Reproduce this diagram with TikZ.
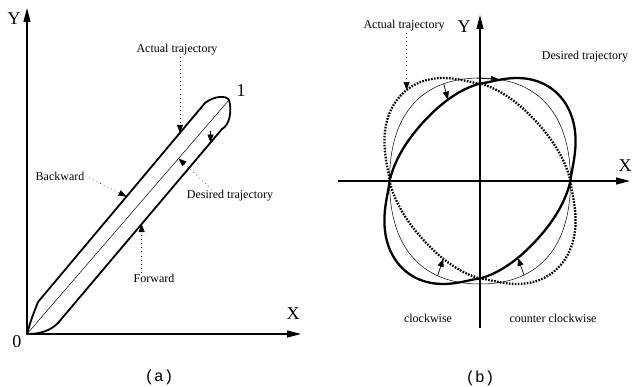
\documentclass[tikz,border=0pt]{standalone}
\usepackage{fontspec}
\setmainfont{Liberation Serif}
\newfontfamily\capfont{Liberation Mono}
\usetikzlibrary{arrows.meta}

\begin{document}
\begin{tikzpicture}[x=1pt, y=-1pt,
  axisline/.style={line width=1.3pt, -{Triangle[length=14pt,width=7pt]}},
  actual/.style={line width=1.8pt, line join=round},
  bold/.style={line width=2.3pt},
  dots/.style={line width=2.3pt, dash pattern=on 1.6pt off 1.4pt},
  desired/.style={line width=0.5pt},
  leader/.style={line width=0.5pt, dash pattern=on 0.6pt off 3.5pt, -{Triangle[length=8pt,width=6pt]}},
  errmark/.style={line width=0.7pt, -{Triangle[length=8pt,width=6pt]}},
  lbl/.style={font=\fontsize{12}{12}\selectfont, inner sep=1pt},
  big/.style={font=\fontsize{18}{18}\selectfont, inner sep=0pt},
  caption/.style={font=\capfont\fontsize{16}{16}\selectfont},
  declare function={
    po(\t)=max(sin(2*\t),0);
    ne(\t)=max(-sin(2*\t),0);
    rb(\t)=1+0.24*po(\t)*sqrt(po(\t)+0.0001)-0.13*ne(\t);
    rd(\t)=1+0.24*ne(\t)*sqrt(ne(\t)+0.0001)-0.13*po(\t);
    rt(\t)=1+0.05*sin(2*\t)*sin(2*\t);
  }]
\useasboundingbox (0,0) rectangle (632,387);

% (a) straight line
\coordinate (O) at (27,334);
\coordinate (ya) at (27,8);
\coordinate (xa) at (301,334);
\coordinate (T) at (229,100);
\coordinate (u1) at (38,302);
\coordinate (u2) at (205,103);
\coordinate (l1) at (58,323);
\coordinate (l2) at (222,129);
\draw[axisline] (O) -- (ya);
\draw[axisline] (O) -- (xa);
\draw[desired] (O) -- (T);
\draw[actual] (O) .. controls (31,320) .. (u1) -- (u2)
  .. controls (214,96) and (226,95) .. (T)
  .. controls (232,110) and (230,125) .. (l2) -- (l1)
  .. controls (50,331) and (40,334) .. cycle;
\path (u1) -- (u2) coordinate[pos=0.85] (ua) coordinate[pos=0.53] (ub);
\path (l1) -- (l2) coordinate[pos=0.51] (lf) coordinate[pos=0.93] (la);
\path (O) -- (T) coordinate[pos=0.75] (dd);

\node[big] (ylab1) at (14,19) {Y};
\node[big] (xlab1) at (293,314) {X};
\node[big] (zero) at (17,342) {0};
\node[big] (one) at (241,91) {1};
\node[lbl] (act) at (177,50) {Actual trajectory};
\node[lbl] (bwd) at (60,176) {Backward};
\node[lbl] (des) at (230,196) {Desired trajectory};
\node[lbl] (fwd) at (154,278) {Forward};
\node[caption] (capa) at (159,377) {(a)};

\draw[leader] (act.south -| ua) -- (ua);
\draw[leader] (bwd.east) -- (ub);
\draw[leader] ([xshift=-18pt]des.north) -- (dd);
\draw[leader] (fwd.north -| lf) -- (lf);
\draw[errmark] ([yshift=12pt]la) -- (la);

% (b) circle
\begin{scope}[shift={(480,181)}, yscale=-1]
  \coordinate (xl) at (-142,0);
  \coordinate (xr) at (150,0);
  \coordinate (yb) at (0,-147);
  \coordinate (yt) at (0,166);
  \draw[axisline] (xl) -- (xr);
  \draw[axisline] (yb) -- (yt);
  \draw[desired] plot[domain=0:360, samples=181]
    ({90.5*rt(\x)*cos(\x)}, {103*rt(\x)*sin(\x)}) -- cycle;
  \draw[bold] plot[domain=0:360, samples=181]
    ({90.5*rb(\x)*cos(\x)}, {97.5*rb(\x)*sin(\x)}) -- cycle;
  \draw[dots] plot[domain=0:360, samples=181]
    ({90.5*rd(\x)*cos(\x)}, {97.5*rd(\x)*sin(\x)}) -- cycle;
  \coordinate (da) at ({90.5*rd(131)*cos(131)}, {97.5*rd(131)*sin(131)});
  \coordinate (t0) at ({90.5*rt(92)*cos(92)}, {103*rt(92)*sin(92)});
  \coordinate (t1) at ({90.5*rt(78)*cos(78)}, {103*rt(78)*sin(78)});
  \coordinate (q2t) at ({90.5*rt(113)*cos(113)}, {103*rt(113)*sin(113)});
  \coordinate (q2b) at ({90.5*rb(113)*cos(113)}, {97.5*rb(113)*sin(113)});
  \coordinate (q3t) at ({90.5*rt(243)*cos(243)}, {103*rt(243)*sin(243)});
  \coordinate (q3d) at ({90.5*rd(243)*cos(243)}, {97.5*rd(243)*sin(243)});
  \coordinate (q4t) at ({90.5*rt(298)*cos(298)}, {103*rt(298)*sin(298)});
  \coordinate (q4b) at ({90.5*rb(298)*cos(298)}, {97.5*rb(298)*sin(298)});
\end{scope}

\node[big] (ylab2) at (464,27) {Y};
\node[big] (xlab2) at (625,166) {X};
\node[lbl] (act2) at (404,26) {Actual trajectory};
\node[lbl] (des2) at (585,57) {Desired trajectory};
\node[lbl] (cw) at (428,318) {clockwise};
\node[lbl] (ccw) at (553,318) {counter clockwise};
\node[caption] (capb) at (480,378) {(b)};

\draw[leader] (act2.south -| da) -- (da);
\draw[errmark] (t0) -- (t1);
\draw[errmark] (q2t) -- (q2b);
\draw[errmark] (q3t) -- (q3d);
\draw[errmark] (q4t) -- (q4b);
\end{tikzpicture}
\end{document}
